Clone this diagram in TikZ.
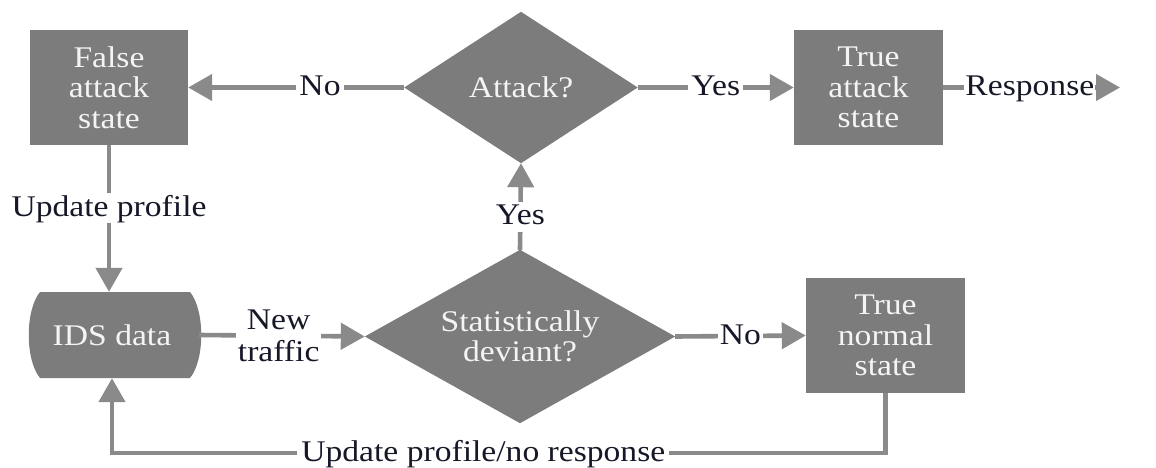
\documentclass[tikz,border=0pt]{standalone}
\usepackage{fontspec}
\setmainfont{Liberation Serif}[FakeStretch=1.12]
\usetikzlibrary{arrows.meta}
\definecolor{boxgray}{RGB}{124,124,124}
\definecolor{linegray}{RGB}{138,138,138}
\definecolor{labelcol}{RGB}{22,24,40}
\definecolor{boxtext}{RGB}{244,244,244}
\tikzset{
  base/.style={font=\fontsize{30}{30.5}\selectfont, align=center},
  statebox/.style={base, fill=boxgray, text=boxtext, minimum width=#1, minimum height=115pt, inner sep=0pt},
  decision/.style={base, text=boxtext, inner sep=0pt},
  conn/.style={draw=linegray, line width=4.6pt, -{Triangle[length=24pt,width=26pt]}},
  lblm/.style={base, fill=white, text=labelcol, inner sep=3pt},
  lbl/.style={lblm, text height=22pt, text depth=6pt}
}
\begin{document}
\begin{tikzpicture}[x=1pt,y=-1pt]
\useasboundingbox (0,0) rectangle (1156,468);
% nodes
\node[statebox=158pt] (false) at (109,87.5) {False\\attack\\state};
\node[statebox=149pt] (truea) at (868.5,87.5) {True\\attack\\state};
\node[statebox=159pt] (truen) at (885.5,335.5) {True\\normal\\state};
\node[decision, minimum width=233pt, minimum height=151pt] (attack) at (521,87.5) {};
\fill[boxgray] (attack.north) -- (attack.east) -- (attack.south) -- (attack.west) -- cycle;
\node[decision] at (attack.center) {Attack?};
\node[decision, minimum width=310pt, minimum height=173pt] (stat) at (520,336.5) {};
\fill[boxgray] (stat.north) -- (stat.east) -- (stat.south) -- (stat.west) -- cycle;
\node[decision] at (stat.center) {Statistically\\deviant?};
% IDS data shape
\fill[boxgray] (40,292) -- (190,292) .. controls (205,310) and (205,360) .. (190,378)
  -- (40,378) .. controls (25,360) and (25,310) .. (40,292) -- cycle;
\node[base, text=boxtext, minimum width=174pt, minimum height=86pt, inner sep=0pt] (ids) at (112,335) {IDS data};
\coordinate (resp) at (1120,87.5);
\coordinate (bot) at (885.5,453);
% connectors
\draw[conn] (attack.west) -- node[lbl, pos=0.39] {No} (false.east);
\draw[conn] (attack.east) -- node[lbl, pos=0.5] {Yes} (truea.west);
\draw[conn] (truea.east) -- node[lbl, pos=0.49, inner sep=1pt] {Response} (resp);
\draw[conn] (false.south) -- node[lbl, pos=0.43, inner sep=1pt] {Update profile} (false.south |- ids.north);
\draw[conn] (ids.east) -- node[lblm, pos=0.48, inner sep=2pt, font=\fontsize{30}{32}\selectfont] {New\\traffic} (stat.west);
\draw[conn] (stat.north) -- node[lbl, pos=0.38, inner sep=1pt] {Yes} (attack.south);
\draw[conn] (stat.east) -- node[lbl, pos=0.5, inner sep=2pt] {No} (truen.west);
\draw[conn] (truen.south) -- (bot) -| node[lbl, pos=0.26, inner sep=4pt] {Update profile/no response} (ids.south);
\end{tikzpicture}
\end{document}
